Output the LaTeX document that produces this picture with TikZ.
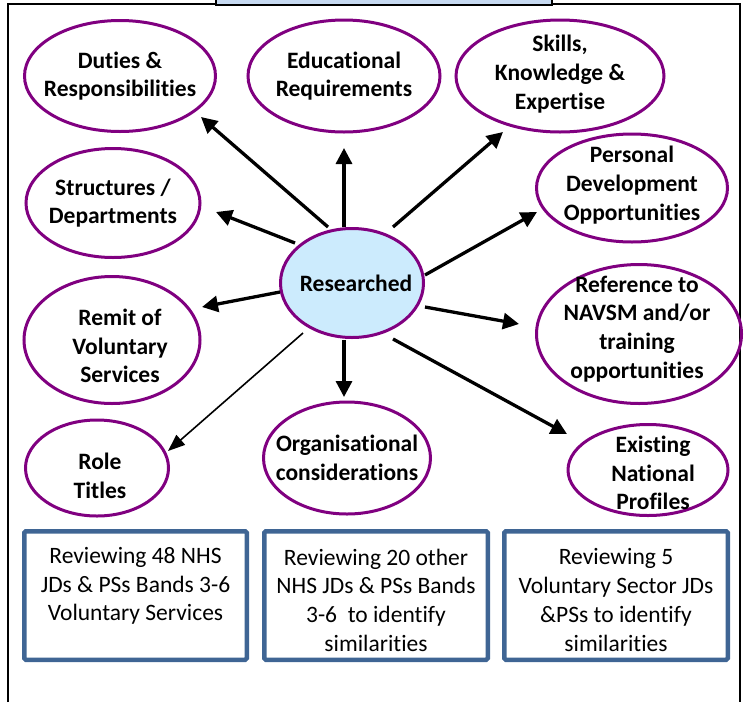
\documentclass[tikz,border=0pt]{standalone}
\usepackage{fontspec}
\setmainfont{Carlito}[Ligatures={NoCommon}]
\usetikzlibrary{shapes.geometric,arrows.meta,calc}
\definecolor{ovalpurple}{HTML}{800080}
\definecolor{resblue}{HTML}{CCEBFD}
\definecolor{boxblue}{HTML}{3F6594}
\definecolor{tabblue}{HTML}{C6D9F1}
\begin{document}
\begin{tikzpicture}[x=1pt,y=-1pt,
  oval/.style={ellipse, draw=ovalpurple, line width=3pt, inner sep=0pt},
  ovaltext/.style={align=center, font=\bfseries\fontsize{23.5}{28.7}\selectfont, inner sep=0pt},
  arr/.style={line width=3.3pt, -{Triangle[length=16pt,width=16pt]}},
  thinarr/.style={line width=1.6pt, -{Triangle[length=17pt,width=13pt]}},
  revbox/.style={draw=boxblue, line width=4.5pt, rounded corners=1.5pt, inner sep=0pt, minimum height=128.5pt},
  boxtext/.style={align=center, font=\fontsize{23.5}{28.7}\selectfont, inner sep=0pt},
  frame/.style={line width=2pt, draw=black}
]
\useasboundingbox (0,0) rectangle (744,702);
% frame
\draw[frame] (7.5,702) -- (7.5,4) -- (740,4) -- (740,702);
\path[fill=tabblue, draw=black, line width=1.5pt] (216,-2) rectangle (552,5);

% ovals
\node[oval, fill=resblue, minimum width=143pt, minimum height=109pt] (res) at (352,283) {};
\node[oval, minimum width=191pt, minimum height=111pt] (duties) at (120,76) {};
\node[oval, minimum width=192pt, minimum height=112pt] (edu) at (344,76) {};
\node[oval, minimum width=208pt, minimum height=112pt] (skills) at (560,76) {};
\node[oval, minimum width=191pt, minimum height=108pt] (personal) at (632,188) {};
\node[oval, minimum width=174pt, minimum height=109pt] (struct) at (113,203) {};
\node[oval, minimum width=176pt, minimum height=127pt] (remit) at (112,340) {};
\node[oval, minimum width=143pt, minimum height=96pt] (role) at (97,468) {};
\node[oval, minimum width=167pt, minimum height=112pt] (org) at (347,458) {};
\node[oval, minimum width=205pt, minimum height=139pt] (ref) at (639,334) {};
\node[oval, minimum width=160pt, minimum height=91pt] (exist) at (648,470) {};

% oval texts
\node[ovaltext] (rest) at (356,283) {Researched};
\node[ovaltext] (dutiest) at (120,76) {Duties \&\\Responsibilities};
\node[ovaltext] (edut) at (344,76) {Educational\\Requirements};
\node[ovaltext] (skillst) at (560,74) {Skills,\\Knowledge \&\\Expertise};
\node[ovaltext] (personalt) at (632,185) {Personal\\Development\\Opportunities};
\node[ovaltext] (structt) at (113,203) {Structures /\\Departments};
\node[ovaltext] (remitt) at (120,346) {Remit of\\Voluntary\\Services};
\node[ovaltext] (rolet) at (100,476) {Role\\Titles};
\node[ovaltext] (orgt) at (347,458) {Organisational\\considerations};
\node[ovaltext] (reft) at (637,329) {Reference to\\NAVSM and/or\\training\\opportunities};
\node[ovaltext] (existt) at (653,473) {Existing\\National\\Profiles};

% arrows
\draw[arr] ($(res)+(-24,-56)$) -- ($(duties)+(81,41)$);
\draw[arr] ($(res)+(-8,-56)$) -- ($(edu)+(0,72)$);
\draw[arr] ($(res)+(-57,-40)$) -- ($(struct)+(103,9)$);
\draw[arr] ($(res)+(41,-56)$) -- ($(skills)+(-57,56)$);
\draw[arr] ($(res)+(73,-8)$) -- ($(personal)+(-95,24)$);
\draw[arr] ($(res)+(73,24)$) -- ($(ref)+(-120,-10)$);
\draw[arr] ($(res)+(41,56)$) -- ($(exist)+(-81,-36)$);
\draw[arr] ($(res)+(-8,57)$) -- ($(org)+(-3,-61)$);
\draw[arr] ($(res)+(-72,9)$) -- ($(remit)+(90,-33)$);
\draw[thinarr] ($(res)+(-49,50)$) -- ($(role)+(71,-17)$);

% bottom boxes
\node[revbox, minimum width=222.5pt] (box1) at (135.5,595.5) {};
\node[revbox, minimum width=223.5pt] (box2) at (376,595.5) {};
\node[revbox, minimum width=223.5pt] (box3) at (616,595.5) {};
\node[boxtext] (box1t) at (135.5,586) {Reviewing 48 NHS\\JDs \& PSs Bands 3-6\\Voluntary Services};
\node[boxtext] (box2t) at (376,600) {Reviewing 20 other\\NHS JDs \& PSs Bands\\3-6\ \ to identify\\similarities};
\node[boxtext] (box3t) at (616,600) {Reviewing 5\\Voluntary Sector JDs\\\&PSs to identify\\similarities};
\end{tikzpicture}
\end{document}
